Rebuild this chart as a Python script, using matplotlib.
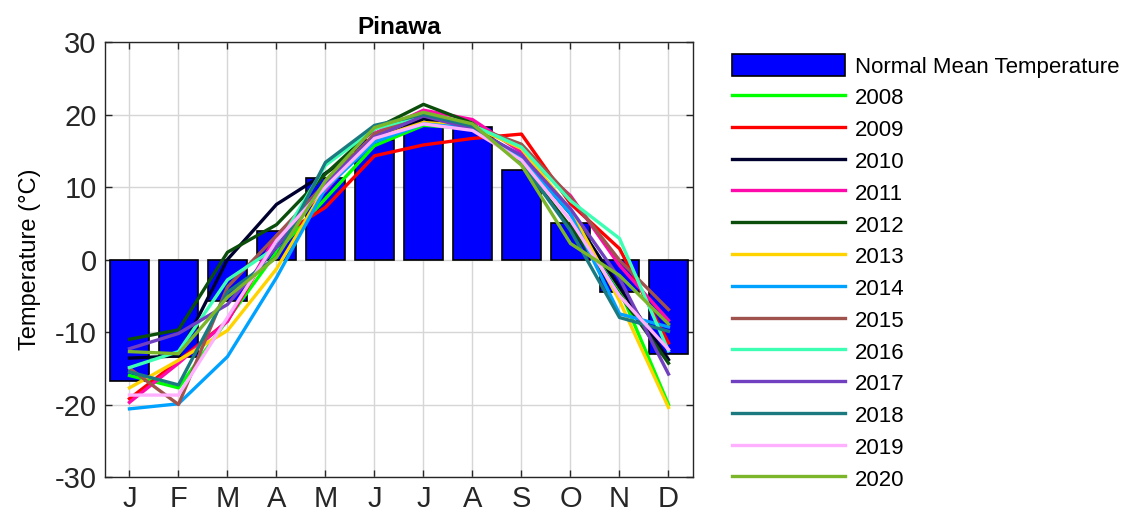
import matplotlib.pyplot as plt
import numpy as np

plt.rcParams['font.family'] = ['Liberation Sans', 'DejaVu Sans']
plt.rcParams['axes.unicode_minus'] = False

months = ['J', 'F', 'M', 'A', 'M', 'J', 'J', 'A', 'S', 'O', 'N', 'D']
normal = [-16.7, -13.4, -5.7, 4.0, 11.3, 16.5, 19.0, 18.3, 12.4, 5.0, -4.5, -13.1]

t2008 = [-16.0, -17.7, -8.3, 1.0, 8.4, 15.7, 18.5, 18.1, 14.1, 6.5, -4.1, -20.0]
t2009 = [-19.2, -14.0, -8.5, 2.9, 7.2, 14.3, 15.8, 16.7, 17.3, 7.7, 1.5, -11.5]
t2010 = [-13.6, -13.3, 0.0, 7.6, 11.9, 16.4, 19.4, 18.3, 14.1, 6.3, -3.8, -13.8]
t2011 = [-19.7, -14.3, -8.5, 3.3, 9.5, 17.4, 20.6, 19.3, 14.8, 8.8, -0.8, -8.4]
t2012 = [-11.0, -9.7, 1.0, 4.8, 11.8, 18.0, 21.4, 18.8, 13.2, 4.5, -4.8, -14.3]
t2013 = [-17.7, -13.9, -9.8, -1.3, 10.0, 16.7, 18.9, 18.4, 15.3, 6.8, -5.7, -20.4]
t2014 = [-20.6, -19.9, -13.4, -2.5, 9.8, 16.2, 18.7, 18.1, 14.1, 6.3, -7.5, -9.3]
t2015 = [-15.0, -20.0, -3.8, 3.3, 10.5, 17.3, 20.0, 18.4, 15.9, 8.6, -0.1, -6.9]
t2016 = [-14.9, -12.7, -2.8, 1.7, 13.0, 18.0, 19.9, 18.5, 15.5, 8.1, 2.9, -12.6]
t2017 = [-12.3, -10.2, -6.2, 1.7, 10.6, 16.9, 19.8, 18.0, 14.4, 7.0, -2.6, -15.8]
t2018 = [-15.5, -17.3, -4.5, 0.3, 13.4, 18.5, 20.0, 18.4, 13.4, 4.0, -8.0, -9.9]
t2019 = [-18.7, -18.7, -8.0, 2.6, 10.0, 16.7, 18.7, 17.8, 13.7, 5.4, -5.0, -12.4]
t2020 = [-12.7, -13.0, -5.2, 0.3, 10.9, 18.2, 20.3, 18.7, 13.0, 2.2, -2.2, -8.9]

years = ['2008', '2009', '2010', '2011', '2012', '2013', '2014',
         '2015', '2016', '2017', '2018', '2019', '2020']
series = [t2008, t2009, t2010, t2011, t2012, t2013, t2014,
          t2015, t2016, t2017, t2018, t2019, t2020]
colors = ['#00FF00', '#FF0000', '#00002E', '#FF0AAA', '#0B4D0B', '#FFD300', '#00A2FF',
          '#A0524D', '#3DFFB4', '#7040C0', '#1A7A80', '#FFB0FF', '#7AB52A']

x = np.arange(1, 13)

fig = plt.figure(figsize=(11.25, 5.25), dpi=100)
ax = fig.add_axes([0.0933, 0.0914, 0.5227, 0.8286])

# normals as bars, each year as a line on top
bars = ax.bar(x, normal, width=0.8, color='#0000FF', edgecolor='black', linewidth=1.2,
              label='Normal Mean Temperature', zorder=2)
handles = [bars]
for yr, vals, c in zip(years, series, colors):
    ln, = ax.plot(x, vals, color=c, linewidth=2.4, label=yr, zorder=3)
    handles.append(ln)

ax.set_xlim(0.5, 12.5)
ax.set_ylim(-30, 30)
ax.set_xticks(x)
ax.set_xticklabels(months)
ax.set_yticks([-30, -20, -10, 0, 10, 20, 30])
ax.grid(True, color='#D6D6D6', linewidth=1.0, zorder=0)
ax.set_axisbelow(True)
ax.tick_params(direction='in', top=True, right=True, length=5, width=1,
               labelsize=21, colors='#262626', pad=6)
for s in ax.spines.values():
    s.set_color('#262626')
    s.set_linewidth(1.0)

ax.set_title('Pinawa', fontsize=17.5, fontweight='bold', pad=6)
ax.set_ylabel('Temperature (°C)', fontsize=17, labelpad=10)

fig.legend(handles=handles, labels=[h.get_label() for h in handles],
           loc='upper left', bbox_to_anchor=(0.651, 0.897), frameon=False,
           fontsize=16, handlelength=5.05, handleheight=1.15, handletextpad=0.45,
           labelspacing=0.37, borderpad=0, borderaxespad=0)

plt.savefig('out.png', dpi=100)
